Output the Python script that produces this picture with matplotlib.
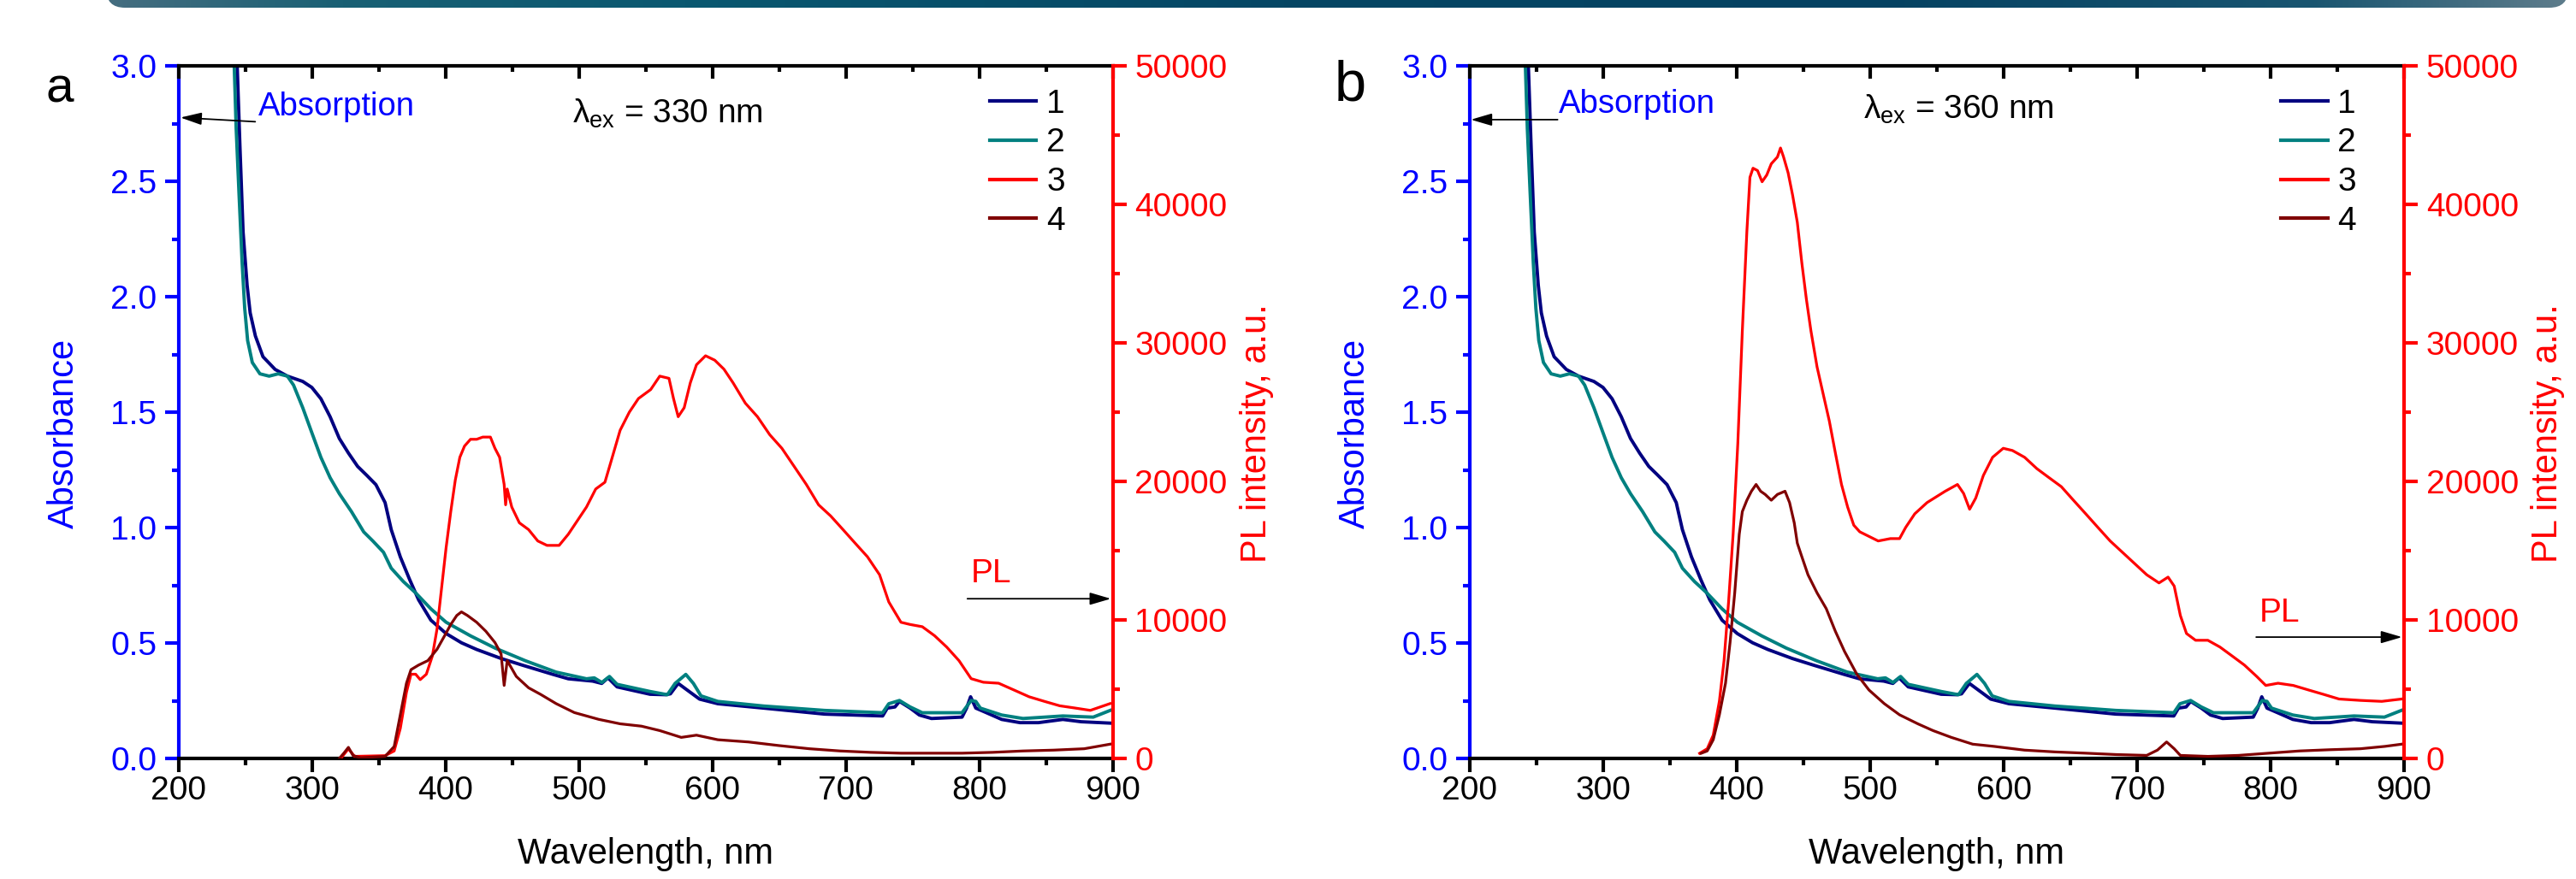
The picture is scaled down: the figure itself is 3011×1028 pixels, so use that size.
import numpy as np
import matplotlib
matplotlib.use('Agg')
import matplotlib.pyplot as plt
from matplotlib.ticker import MultipleLocator, FormatStrFormatter
from matplotlib.patches import FancyBboxPatch

plt.rcParams['font.family'] = ['Liberation Sans', 'DejaVu Sans']
plt.rcParams['mathtext.fontset'] = 'custom'
plt.rcParams['mathtext.rm'] = 'Liberation Sans'
plt.rcParams['mathtext.it'] = 'Liberation Sans'

# ---------------- data ----------------
# absorption, sample 1 (navy)  -- same spectra in both panels
abs1_wl = [238, 243.7, 246, 248.3, 251.3, 253.6, 257.5, 263.2, 272.3, 281.5, 293, 299.8, 306.6,
           313.5, 320.4, 327.2, 334.1, 341, 347.8, 354.7, 359.3, 366.1, 373, 379.8, 389, 400.4,
           411.9, 423.3, 441.6, 457.6, 480.5, 492, 510.2, 517, 521.7, 528.5, 553.2, 565.1, 568.5,
           574.3, 581.1, 590.3, 604, 638.3, 684, 727.5, 731, 736.7, 740.1, 748.1, 755, 764.1, 787,
           790.4, 793.4, 797.3, 805.3, 816.7, 830.4, 844.2, 862.5, 876.2, 898]
abs1_val = [3.6, 3.03, 2.64, 2.28, 2.05, 1.93, 1.83, 1.74, 1.685, 1.656, 1.633, 1.607, 1.558,
            1.48, 1.386, 1.323, 1.265, 1.226, 1.186, 1.108, 0.991, 0.873, 0.776, 0.687, 0.599, 0.541,
            0.501, 0.472, 0.433, 0.404, 0.364, 0.345, 0.335, 0.325, 0.349, 0.31, 0.278, 0.276, 0.28,
            0.325, 0.296, 0.257, 0.237, 0.218, 0.192, 0.184, 0.218, 0.223, 0.247, 0.218, 0.188, 0.173, 0.179,
            0.218, 0.267, 0.218, 0.198, 0.169, 0.155, 0.155, 0.169, 0.159, 0.153]

# absorption, sample 2 (teal)
abs2_wl = [236, 241.5, 243.1, 245.3, 247.6, 249.5, 251.7, 255.2, 260.9, 267.8, 274.6, 281.5, 286.1,
           293, 299.8, 306.6, 313.5, 320.4, 329.5, 338.7, 345.5, 353.5, 359.3, 368.4, 377.6, 389,
           400.4, 418.7, 437.1, 459.9, 482.8, 505.6, 511.4, 517.1, 522.8, 528.5, 553.2, 566.2, 572,
           580, 585.7, 591.4, 604, 638.3, 684, 727.5, 732.1, 740.1, 748.1, 757.2, 787, 793.8, 797.3,
           800.7, 816.7, 832.7, 862.5, 885.3, 898]
abs2_val = [3.6, 3.03, 2.73, 2.44, 2.145, 1.95, 1.81, 1.715, 1.666, 1.656, 1.666, 1.656, 1.617,
            1.519, 1.411, 1.304, 1.216, 1.147, 1.069, 0.981, 0.942, 0.893, 0.824, 0.766, 0.717, 0.648,
            0.59, 0.531, 0.478, 0.423, 0.374, 0.345, 0.349, 0.329, 0.355, 0.321, 0.29, 0.276, 0.325,
            0.364, 0.325, 0.271, 0.247, 0.227, 0.208, 0.198, 0.237, 0.251, 0.223, 0.198, 0.198, 0.251, 0.247,
            0.218, 0.188, 0.173, 0.184, 0.179, 0.208]

# PL, panel a (lambda_ex = 330 nm)
pl3a_wl = [321.5, 327.2, 331.8, 354.7, 361.5, 366.1, 370.7, 374.1, 377.6, 381, 385.6, 390.1, 393.6,
           397, 400.4, 403.9, 407.3, 410.7, 414.2, 418.7, 423.3, 427.9, 433.6, 437.0, 440.5, 443.9,
           445.0, 446.2, 449.6, 455.3, 462.2, 469.1, 476.0, 485.1, 492.0, 498.8, 505.6, 512.5, 519.4,
           523.9, 530.8, 537.7, 544.5, 553.7, 560.5, 567.4, 570.8, 574.3, 578.8, 583.4, 588.0, 594.8,
           601.7, 608.6, 615.4, 624.6, 633.7, 642.9, 652.0, 661.2, 670.3, 679.5, 688.6, 697.8, 706.9,
           716.1, 725.2, 732.1, 741.2, 748.1, 757.2, 766.4, 775.5, 784.7, 793.8, 803.0, 814.4, 825.9,
           837.3, 848.7, 860.2, 871.6, 883.1, 897.9]
pl3a_val = [0, 700, 150, 200, 540, 2170, 4780, 6080, 6080, 5690, 6080, 7390, 9340,
            12280, 15210, 17820, 20100, 21740, 22550, 23040, 23040, 23200, 23200, 22390, 21740, 19780,
            18310, 19450, 18150, 17010, 16520, 15700, 15380, 15380, 16190, 17170, 18150, 19450, 19940,
            21410, 23690, 25000, 25980, 26630, 27600, 27440, 25980, 24670, 25320, 27120, 28420, 29070,
            28750, 28100, 27120, 25650, 24670, 23370, 22390, 21080, 19780, 18310, 17500, 16520, 15540,
            14560, 13260, 11300, 9830, 9670, 9510, 8860, 8040, 7060, 5760, 5500, 5430, 4940,
            4450, 4120, 3800, 3640, 3470, 3960]
pl4a_wl = [320.4, 323.8, 327.2, 330.7, 336.4, 354.7, 361.5, 366.1, 370.7, 374.1, 379.8, 386.7, 393.6,
           399.3, 403.9, 408.4, 411.9, 416.4, 423.3, 430.2, 437.0, 441.6, 443.9, 446.2, 453.0, 462.2,
           471.3, 482.8, 496.5, 514.8, 530.8, 546.8, 560.5, 576.6, 588.0, 604, 626.9, 649.7, 672.6,
           695.5, 718.4, 741.2, 764.1, 787.0, 809.9, 832.7, 855.6, 878.5, 897.9]
pl4a_val = [0, 380, 800, 210, 50, 150, 860, 3150, 5430, 6410, 6740, 7060, 7880,
            8860, 9670, 10320, 10580, 10320, 9830, 9180, 8370, 7550, 5270, 7060, 5920, 5100,
            4620, 3960, 3310, 2820, 2500, 2330, 2010, 1520, 1680, 1350, 1190, 930, 700,
            540, 440, 380, 380, 380, 440, 540, 600, 700, 1030]

# PL, panel b (lambda_ex = 360 nm)
pl3b_wl = [372.2, 377.9, 382.4, 387.0, 390.5, 393.9, 397.3, 400.8, 404.2, 407.6, 409.9, 412.2, 415.6,
           419.0, 422.5, 425.9, 430.5, 432.8, 435.1, 438.5, 441.9, 445.4, 448.8, 452.2, 455.6, 460.2,
           464.8, 469.4, 473.9, 478.5, 483.1, 487.7, 492.2, 499.1, 506.0, 515.1, 522.0, 526.6, 533.4,
           542.6, 556.2, 565.4, 570.0, 574.5, 579.1, 584.8, 591.7, 599.7, 606.6, 615.7, 624.9, 634.0,
           643.2, 652.3, 661.5, 670.6, 679.8, 688.9, 698.1, 707.2, 716.4, 723.2, 727.8, 732.4, 737.0,
           743.8, 753.0, 762.1, 771.3, 780.4, 789.6, 796.4, 805.6, 817.0, 828.5, 839.9, 851.3, 867.3,
           883.3, 898.2]
pl3b_val = [370, 700, 1680, 4130, 7060, 11300, 16190, 22710, 30870, 38040, 41950, 42610, 42440,
            41630, 42120, 42930, 43420, 44070, 43420, 42280, 40650, 38700, 35760, 33150, 30870, 28260,
            26300, 24350, 22060, 19780, 18150, 16840, 16360, 16030, 15700, 15870, 15870, 16680, 17660,
            18470, 19290, 19780, 19130, 17990, 18800, 20430, 21740, 22390, 22230, 21740, 20920, 20270,
            19620, 18640, 17660, 16680, 15700, 14890, 14070, 13260, 12670, 13090, 12440, 10320, 9020,
            8530, 8530, 8040, 7390, 6740, 5920, 5270, 5430, 5270, 4940, 4620, 4290, 4190,
            4120, 4290]
pl4b_wl = [373.3, 377.9, 382.4, 387.0, 391.6, 395.0, 398.5, 401.9, 404.2, 407.6, 411.0, 414.5, 417.9,
           421.3, 425.9, 430.5, 436.2, 439.6, 443.1, 445.4, 448.8, 453.4, 460.2, 467.1, 473.9, 480.8,
           490.0, 499.1, 510.5, 522.0, 535.7, 547.1, 560.8, 576.8, 592.8, 615.7, 638.6, 661.5, 684.3,
           707.2, 715.2, 722.1, 727.8, 732.4, 753.0, 775.9, 798.7, 821.6, 844.5, 867.3, 885.6, 898.2]
pl4b_val = [370, 540, 1350, 3150, 5430, 8370, 11950, 16190, 17820, 18640, 19290, 19780, 19290,
            19060, 18640, 19060, 19290, 18470, 17010, 15540, 14560, 13260, 11950, 10810, 9180, 7720,
            6080, 4940, 3960, 3150, 2500, 2010, 1520, 1030, 870, 600, 470, 380, 280,
            220, 600, 1190, 700, 220, 150, 220, 380, 540, 630, 700, 870, 1030]

legend_labels = ['1', '2', '3', '4']
x_ticks = [200, 300, 400, 500, 600, 700, 800, 900]
abs_ticks = [0.0, 0.5, 1.0, 1.5, 2.0, 2.5, 3.0]
pl_ticks = [0, 10000, 20000, 30000, 40000, 50000]

# ---------------- figure ----------------
W, H = 3011, 1028
fig = plt.figure(figsize=(W / 100, H / 100), dpi=100)

# top banner with gradient
bx0, bx1 = 124, 3002
bax = fig.add_axes([bx0 / W, (H - 9) / H, (bx1 - bx0) / W, 40 / H])
bax.set_xlim(0, bx1 - bx0)
bax.set_ylim(0, 40)
bax.axis('off')
stops_x = np.array([124, 400, 800, 1500, 2200, 2700, 3002]) - bx0
stops_c = np.array([[70, 110, 128], [25, 96, 116], [10, 88, 112], [5, 70, 100],
                    [5, 66, 98], [25, 85, 112], [95, 125, 140]]) / 255.0
xs = np.arange(bx1 - bx0)
grad = np.stack([np.interp(xs, stops_x, stops_c[:, k]) for k in range(3)], axis=-1)[None, :, :]
im = bax.imshow(grad, extent=(0, bx1 - bx0, 0, 40), aspect='auto')
clip = FancyBboxPatch((0, 0), bx1 - bx0, 80, boxstyle='round,pad=0,rounding_size=22',
                      transform=bax.transData, facecolor='none', edgecolor='none')
bax.add_patch(clip)
im.set_clip_path(clip)

panels = [
    dict(left=208.8, pl3=(pl3a_wl, pl3a_val), pl4=(pl4a_wl, pl4a_val),
         lam=(495.3, 2.752, r'$\lambda_{ex}$ = 330 nm'),
         absorb_txt=(259.8, 2.787), absorb_arrow=((257.4, 2.758), (201.4, 2.776)),
         pl_txt=(793.8, 12700), pl_arrow=((791, 11530), (898.5, 11530)),
         letter=('a', 53, 119, 42)),
    dict(left=1718.0, pl3=(pl3b_wl, pl3b_val), pl4=(pl4b_wl, pl4b_val),
         lam=(495.0, 2.771, r'$\lambda_{ex}$ = 360 nm'),
         absorb_txt=(266.9, 2.797), absorb_arrow=((265.8, 2.767), (200.8, 2.767)),
         pl_txt=(791.4, 9900), pl_arrow=((789.2, 8760), (898.5, 8760)),
         letter=('b', 1560, 117, 48)),
]

LW_SP = 3.0
for p in panels:
    ax = fig.add_axes([p['left'] / W, (H - 887) / H, 1092 / W, 810 / H])
    ax2 = ax.twinx()

    l1, = ax.plot(abs1_wl, abs1_val, color='#000080', lw=2.8)
    l2, = ax.plot(abs2_wl, abs2_val, color='#008080', lw=2.8)
    l3, = ax2.plot(*p['pl3'], color='#ff0000', lw=2.3)
    l4, = ax2.plot(*p['pl4'], color='#800000', lw=2.3)

    ax.set_xlim(200, 900)
    ax.set_ylim(0, 3.0)
    ax2.set_ylim(0, 50000)

    ax.set_xticks(x_ticks)
    ax.xaxis.set_minor_locator(MultipleLocator(50))
    ax.set_yticks(abs_ticks)
    ax.yaxis.set_minor_locator(MultipleLocator(0.25))
    ax.yaxis.set_major_formatter(FormatStrFormatter('%.1f'))
    ax2.set_yticks(pl_ticks)
    ax2.yaxis.set_minor_locator(MultipleLocator(5000))
    ax2.yaxis.set_major_formatter(FormatStrFormatter('%d'))

    # spines
    for s in ['top', 'bottom']:
        ax.spines[s].set_linewidth(LW_SP)
        ax.spines[s].set_color('black')
    ax.spines['left'].set_linewidth(LW_SP)
    ax.spines['left'].set_color('#0000ff')
    ax.spines['right'].set_visible(False)
    for s in ['left', 'top', 'bottom']:
        ax2.spines[s].set_visible(False)
    ax2.spines['right'].set_linewidth(LW_SP)
    ax2.spines['right'].set_color('#ff0000')

    # ticks
    ax.tick_params(axis='x', which='both', direction='out', top=False, bottom=True,
                   width=LW_SP, colors='black', labelsize=28, pad=3)
    ax.tick_params(axis='x', which='major', length=11.5)
    ax.tick_params(axis='x', which='minor', length=5.5)
    ax.tick_params(axis='y', which='both', direction='out', width=LW_SP,
                   colors='#0000ff', labelsize=28, pad=7)
    ax.tick_params(axis='y', which='major', length=11.5)
    ax.tick_params(axis='y', which='minor', length=5.5)
    ax2.tick_params(axis='y', which='both', direction='out', width=LW_SP,
                    colors='#ff0000', labelsize=28, pad=7)
    ax2.tick_params(axis='y', which='major', length=11.5)
    ax2.tick_params(axis='y', which='minor', length=5.5)
    ax2.xaxis.set_visible(True)
    ax2.tick_params(axis='x', which='both', direction='in', bottom=False, top=True,
                    labelbottom=False, labeltop=False, width=LW_SP, colors='black')
    ax2.tick_params(axis='x', which='major', length=11)
    ax2.tick_params(axis='x', which='minor', length=5)

    # labels
    ax.set_xlabel('Wavelength, nm', fontsize=30, va='baseline')
    ax.xaxis.set_label_coords(0.5, -0.1519)
    ax.set_ylabel('Absorbance', fontsize=30, color='#0000ff', va='center', ha='center')
    ax.yaxis.set_label_coords(-0.1227, 0.469)
    ax2.set_ylabel('PL intensity, a.u.', fontsize=30, color='#ff0000', va='center',
                   ha='center', rotation=90)
    ax2.yaxis.set_label_coords(1.1538, 0.469)

    # annotations
    ax.text(p['absorb_txt'][0], p['absorb_txt'][1], 'Absorption', color='#0000ff',
            fontsize=27.5, va='baseline', ha='left')
    ax.annotate('', xy=p['absorb_arrow'][1], xytext=p['absorb_arrow'][0],
                arrowprops=dict(arrowstyle='-|>,head_length=0.75,head_width=0.22',
                                color='black', lw=1.3, mutation_scale=20,
                                shrinkA=0, shrinkB=0))
    ax.text(p['lam'][0], p['lam'][1], p['lam'][2], color='black', fontsize=28,
            va='baseline', ha='left')
    ax2.text(p['pl_txt'][0], p['pl_txt'][1], 'PL', color='#ff0000', fontsize=28,
             va='baseline', ha='left')
    ax2.annotate('', xy=p['pl_arrow'][1], xytext=p['pl_arrow'][0],
                 arrowprops=dict(arrowstyle='-|>,head_length=0.75,head_width=0.22',
                                 color='black', lw=1.3, mutation_scale=20,
                                 shrinkA=0, shrinkB=0))

    leg = ax2.legend([l1, l2, l3, l4], legend_labels, loc='upper left',
                     bbox_to_anchor=(0.868, 0.967), frameon=False, fontsize=28,
                     handlelength=1.41, handletextpad=0.3, labelspacing=0.25,
                     borderpad=0, borderaxespad=0)
    for h in leg.get_lines():
        h.set_linewidth(3.0)

    lt, lx, ly, ls = p['letter']
    fig.text(lx / W, 1 - ly / H, lt, fontsize=ls, va='baseline', ha='left', color='black')

fig.savefig('out.png', dpi=100)
